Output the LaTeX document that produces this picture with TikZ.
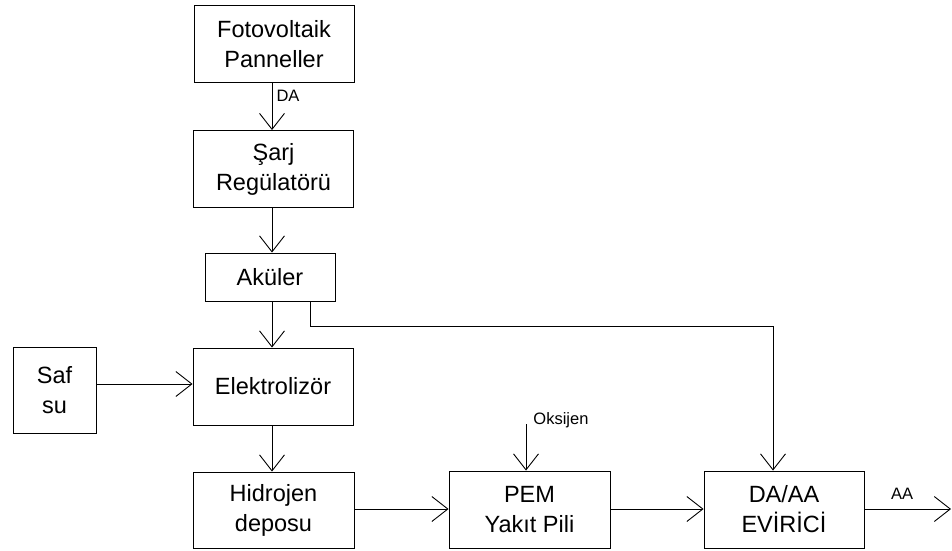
\documentclass[tikz,border=0pt]{standalone}
\usepackage{fontspec}
\setmainfont{Liberation Sans}
\usetikzlibrary{arrows.meta}
\begin{document}
\begin{tikzpicture}[x=1pt,y=-1pt,
  box/.style={draw,line width=0.9pt,minimum width=160pt,minimum height=77pt,inner sep=0pt,align=center,font=\fontsize{23.5}{30}\selectfont},
  lbl/.style={font=\fontsize{16.5}{18}\selectfont,inner sep=0pt},
  conn/.style={line width=0.9pt,-{Straight Barb[length=16pt,width=25pt,line width=0.9pt]}},
  plain/.style={line width=0.9pt}]
\useasboundingbox (0,0) rectangle (952,550);
\node[box] (fv) at (274,44) {Fotovoltaik\\Panneller};
\node[box] (sarj) at (273.5,169) {Şarj\\Regülatörü};
\node[box,minimum width=130pt,minimum height=48pt] (aku) at (270,277) {Aküler};
\node[box,minimum width=83pt,minimum height=86pt] (saf) at (54.5,390) {Saf\\su};
\node[box] (elek) at (273,386.5) {Elektrolizör};
\node[box,minimum width=161pt,minimum height=76pt] (hid) at (273.5,510) {Hidrojen\\deposu};
\node[box,minimum width=161pt] (pem) at (529.5,509.5) {PEM\\Yakıt Pili};
\node[box] (evi) at (784,509.5) {DA/AA\\EVİRİCİ};
\node[lbl] (da) at (288,96) {DA};
\node[lbl] (oks) at (561,420) {Oksijen};
\node[lbl] (aa) at (902,494) {AA};
\coordinate (oksin) at (526,424);
\coordinate (out) at (951,509);
\coordinate (bend1) at (310,326);
\coordinate (bend2) at (773,326);
\draw[conn] (fv.south -| 272,0) -- (sarj.north -| 272,0);
\draw[conn] (sarj.south -| 272,0) -- (aku.north -| 272,0);
\draw[conn] (aku.south -| 272,0) -- (elek.north -| 272,0);
\draw[conn] (elek.south -| 272,0) -- (hid.north -| 272,0);
\draw[conn] (saf.east |- 0,384) -- (elek.west |- 0,384);
\draw[conn] (hid.east |- 0,509) -- (pem.west |- 0,509);
\draw[conn] (pem.east |- 0,509) -- (evi.west |- 0,509);
\draw[conn] (evi.east |- 0,509) -- (out);
\draw[conn] (oksin) -- (pem.north -| oksin);
\draw[conn] (aku.south -| bend1) -- (bend1) -- (bend2) -- (evi.north -| bend2);
\end{tikzpicture}
\end{document}
